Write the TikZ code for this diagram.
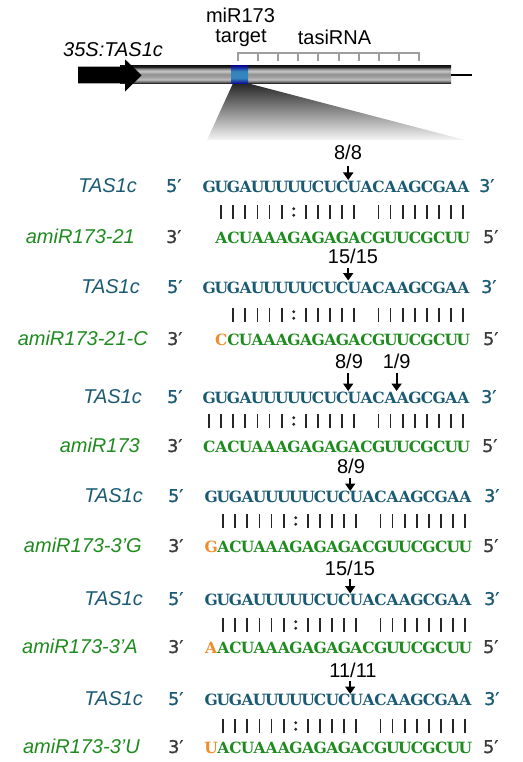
\documentclass[tikz,border=0pt]{standalone}
\usepackage{fontspec}
\setmainfont{Liberation Sans}
\newfontfamily\seqfont{DejaVu Serif Bold}
\newfontfamily\primefont{DejaVu Sans}[FakeBold=1.2]
\usetikzlibrary{arrows.meta}
\definecolor{tasc}{HTML}{1A5A73}
\definecolor{mirc}{HTML}{1E8B1E}
\definecolor{modc}{HTML}{F28C28}
\definecolor{endc}{HTML}{3A3A3A}
\definecolor{brk}{HTML}{9E9E9E}
\newlength\chw \setlength\chw{12.1pt}
\def\seqchars#1{\ifx#1\relax\else\makebox[\chw]{#1}\expandafter\seqchars\fi}
\pgfdeclareverticalshading{cylshade}{100bp}{color(0bp)=(black!88); color(25bp)=(black!88); color(29bp)=(black!60); color(36bp)=(black!25); color(44bp)=(black!38); color(52bp)=(black!42); color(60bp)=(black!22); color(67bp)=(black!45); color(72bp)=(black!85); color(75bp)=(black!90); color(100bp)=(black!90)}
\pgfdeclareverticalshading{blueshade}{100bp}{color(0bp)=(blue!60!black!90); color(25bp)=(blue!55!black!95); color(40bp)=(blue!45!black!60!cyan!80); color(60bp)=(blue!45!black!60!cyan!80); color(75bp)=(blue!55!black!95); color(100bp)=(blue!55!black!95)}
\tikzset{
  seqtxt/.style={font=\seqfont\fontsize{15.5}{18}\selectfont, inner sep=0pt, anchor=base west},
  tasseq/.style={seqtxt, text=tasc},
  mirseq/.style={seqtxt, text=mirc},
  lab/.style={font=\itshape\fontsize{20}{24}\selectfont, inner sep=0pt, anchor=base east},
  taslab/.style={lab, text=tasc},
  mirlab/.style={lab, text=mirc},
  endmark/.style={font=\primefont\fontsize{17.5}{20}\selectfont, inner sep=0pt, anchor=base west},
  tasend/.style={endmark, text=tasc},
  mirend/.style={endmark, text=endc},
  numlab/.style={font=\fontsize{20}{24}\selectfont, inner sep=0pt, anchor=base},
  toplab/.style={font=\fontsize{20}{24}\selectfont, inner sep=0pt, anchor=base},
  cut/.style={line width=1.8pt, -{Triangle[length=7.5pt,width=10pt]}},
  pairbar/.style={line width=1.8pt, black!85},
  bracket/.style={line width=2pt, brk},
}
% #1 start x, #2 centre y, #3 list of paired indices
\newcommand\pairbars[3]{%
  \foreach \k in {#3} \draw[pairbar] ({#1+12.1*(\k+0.5)},#2-7) -- ++(0,14);
  \fill[black!85] ({#1+12.1*7.5},#2-3.3) circle (1.6) ({#1+12.1*7.5},#2+3.3) circle (1.6);
}
\newcommand\cutarrow[4]{%
  \coordinate (#1a) at (#2,#3); \coordinate (#1b) at (#2,#4);
  \draw[cut] (#1a) -- (#1b);
}
\begin{document}
\begin{tikzpicture}[x=1pt,y=-1pt]
\useasboundingbox (0,0) rectangle (522,762);
% ---------- gene diagram ----------
\shade[top color=black!85, bottom color=black!4] (233,83.3) -- (248,83.3) -- (465,140) -- (207,140) -- cycle;
\shade[shading=cylshade] (120,66) rectangle (451,83.3);
\shade[shading=blueshade] (231,66) rectangle (248,83.3);
\draw[line width=2pt] (451,74.6) -- (472,74.6);
\fill[black] (78,66.7) -- (125,66.7) -- (125,59.3) -- (141.5,75.3) -- (125,91.7) -- (125,83.3) -- (78,83.3) -- cycle;
\draw[bracket] (238,61) -- (238,53) -- (419,53) -- (419,61);
\foreach \i in {1,...,8} \draw[bracket] ({238+20.11*\i},53) -- ({238+20.11*\i},61);
\node[font=\itshape\fontsize{20}{24}\selectfont, inner sep=0pt, anchor=base west] (promoter) at (63,57) {35S:TAS1c};
\node[toplab] (mirA) at (240.5,23) {miR173};
\node[toplab] (mirB) at (241,42.5) {target};
\node[toplab] (tasi) at (334.5,44.5) {tasiRNA};
% ---------- row 1 ----------
\node[numlab] (n1) at (348,160) {8/8};
\cutarrow{c1}{348.2}{166}{180}
\node[taslab] (t1) at (137,192) {TAS1c};
\node[tasend] (t1l) at (166,192) {5′};
\node[tasseq] (t1s) at (203,192) {\seqchars GUGAUUUUUCUCUACAAGCGAA\relax};
\node[tasend] (t1r) at (479,192) {3′};
\pairbars{203}{212}{1,2,3,4,5,6,8,9,10,11,12,14,15,16,17,18,19,20,21}
\node[mirlab] (m1) at (135,243) {amiR173-21};
\node[mirend] (m1l) at (166,243) {3′};
\node[mirseq] (m1s) at (215.1,243) {\seqchars ACUAAAGAGAGACGUUCGCUU\relax};
\node[mirend] (m1r) at (483,243) {5′};
% ---------- row 2 ----------
\node[numlab] (n2) at (353,263) {15/15};
\cutarrow{c2}{348.2}{268}{280.5}
\node[taslab] (t2) at (140,293) {TAS1c};
\node[tasend] (t2l) at (167,293) {5′};
\node[tasseq] (t2s) at (203,293) {\seqchars GUGAUUUUUCUCUACAAGCGAA\relax};
\node[tasend] (t2r) at (481,293) {3′};
\pairbars{203}{315}{2,3,4,5,6,8,9,10,11,12,14,15,16,17,18,19,20,21}
\node[mirlab] (m2) at (148,345) {amiR173-21-C};
\node[mirend] (m2l) at (167,345) {3′};
\node[mirseq] (m2s) at (215.1,345) {{\color{modc}\makebox[\chw]{C}}\seqchars CUAAAGAGAGACGUUCGCUU\relax};
\node[mirend] (m2r) at (483,345) {5′};
% ---------- row 3 ----------
\node[numlab] (n3a) at (349,368) {8/9};
\node[numlab] (n3b) at (396.7,368) {1/9};
\cutarrow{c3}{348.2}{373}{391}
\cutarrow{d3}{396.6}{373}{391}
\node[taslab] (t3) at (142,403) {TAS1c};
\node[tasend] (t3l) at (167,403) {5′};
\node[tasseq] (t3s) at (203,403) {\seqchars GUGAUUUUUCUCUACAAGCGAA\relax};
\node[tasend] (t3r) at (481,403) {3′};
\pairbars{203}{421}{0,1,2,3,4,5,6,8,9,10,11,12,14,15,16,17,18,19,20,21}
\node[mirlab] (m3) at (140,452) {amiR173};
\node[mirend] (m3l) at (167,452) {3′};
\node[mirseq] (m3s) at (203,452) {\seqchars CACUAAAGAGAGACGUUCGCUU\relax};
\node[mirend] (m3r) at (482,452) {5′};
% ---------- row 4 ----------
\node[numlab] (n4) at (351,473) {8/9};
\cutarrow{c4}{350.2}{478}{491}
\node[taslab] (t4) at (143,502) {TAS1c};
\node[tasend] (t4l) at (168,502) {5′};
\node[tasseq] (t4s) at (205,502) {\seqchars GUGAUUUUUCUCUACAAGCGAA\relax};
\node[tasend] (t4r) at (484,502) {3′};
\pairbars{205}{521}{1,2,3,4,5,6,8,9,10,11,12,14,15,16,17,18,19,20,21}
\node[mirlab] (m4) at (142,552) {amiR173-3’G};
\node[mirend] (m4l) at (168,552) {3′};
\node[mirseq] (m4s) at (205,552) {{\color{modc}\makebox[\chw]{G}}\seqchars ACUAAAGAGAGACGUUCGCUU\relax};
\node[mirend] (m4r) at (483,552) {5′};
% ---------- row 5 ----------
\node[numlab] (n5) at (350,575) {15/15};
\cutarrow{c5}{350.2}{579}{593.5}
\node[taslab] (t5) at (143,605) {TAS1c};
\node[tasend] (t5l) at (168,605) {5′};
\node[tasseq] (t5s) at (205,605) {\seqchars GUGAUUUUUCUCUACAAGCGAA\relax};
\node[tasend] (t5r) at (484,605) {3′};
\pairbars{205}{625}{1,2,3,4,5,6,8,9,10,11,12,14,15,16,17,18,19,20,21}
\node[mirlab] (m5) at (138,653) {amiR173-3’A};
\node[mirend] (m5l) at (168,653) {3′};
\node[mirseq] (m5s) at (205,653) {{\color{modc}\makebox[\chw]{A}}\seqchars ACUAAAGAGAGACGUUCGCUU\relax};
\node[mirend] (m5r) at (483,653) {5′};
% ---------- row 6 ----------
\node[numlab] (n6) at (353,677) {11/11};
\cutarrow{c6}{350.2}{681}{694}
\node[taslab] (t6) at (143,705) {TAS1c};
\node[tasend] (t6l) at (168,705) {5′};
\node[tasseq] (t6s) at (205,705) {\seqchars GUGAUUUUUCUCUACAAGCGAA\relax};
\node[tasend] (t6r) at (484,705) {3′};
\pairbars{205}{726}{1,2,3,4,5,6,8,9,10,11,12,14,15,16,17,18,19,20,21}
\node[mirlab] (m6) at (140,753) {amiR173-3’U};
\node[mirend] (m6l) at (168,753) {3′};
\node[mirseq] (m6s) at (205,753) {{\color{modc}\makebox[\chw]{U}}\seqchars ACUAAAGAGAGACGUUCGCUU\relax};
\node[mirend] (m6r) at (483,753) {5′};
\end{tikzpicture}
\end{document}
